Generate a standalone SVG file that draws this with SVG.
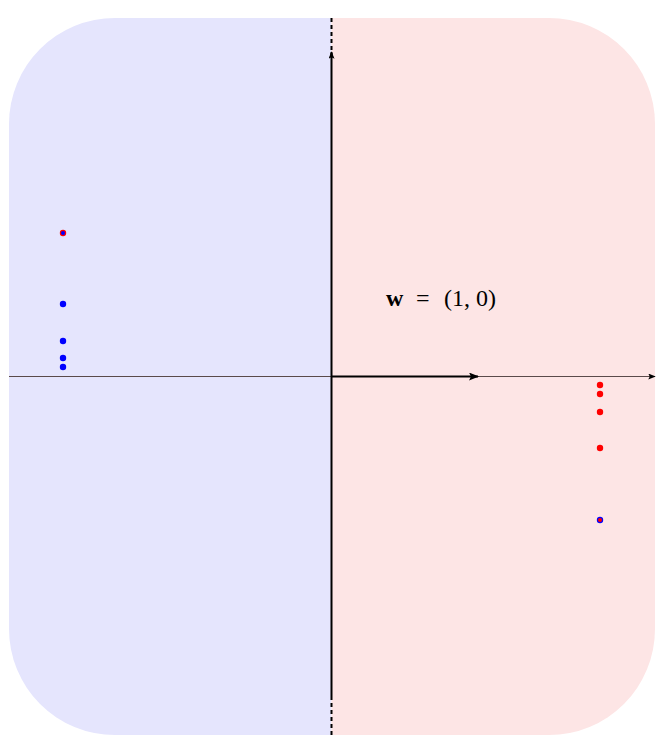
<svg xmlns="http://www.w3.org/2000/svg" width="664" height="754" viewBox="0 0 664 754">
<defs>
<clipPath id="bg"><rect x="9" y="18" width="646" height="717" rx="106" ry="106"/></clipPath>
<marker id="ah" viewBox="0 0 10 8" refX="9" refY="4" markerWidth="10" markerHeight="8" markerUnits="userSpaceOnUse" orient="auto"><path d="M0,0 L10,4 L0,8 L2,4 Z" fill="#000"/></marker>
<marker id="ahs" viewBox="0 0 10 8" refX="9" refY="4" markerWidth="8" markerHeight="6" markerUnits="userSpaceOnUse" orient="auto"><path d="M0,0 L10,4 L0,8 L2,4 Z" fill="#000"/></marker>
</defs>
<style>
.b{fill:#0000ff}
.r{fill:#ff0000}
.t{font-family:"Liberation Serif","DejaVu Serif",serif;font-size:24px;fill:#000}
</style>
<g id="background" clip-path="url(#bg)">
<rect x="9" y="18" width="322.5" height="717" fill="#e5e5fd"/>
<rect x="331.5" y="18" width="323.5" height="717" fill="#fde5e5"/>
</g>
<g id="connectors">
<line x1="9" y1="376.5" x2="655" y2="376.5" stroke="#5a4a4a" stroke-width="1" marker-end="url(#ahs)"/>
<line x1="331.5" y1="18" x2="331.5" y2="55" stroke="#000" stroke-width="2" stroke-dasharray="4,3"/>
<line x1="331.5" y1="735" x2="331.5" y2="697" stroke="#000" stroke-width="2" stroke-dasharray="4,3"/>
<line x1="331.5" y1="697" x2="331.5" y2="52" stroke="#000" stroke-width="2" marker-end="url(#ahs)"/>
<line x1="331.5" y1="376.5" x2="478" y2="376.5" stroke="#000" stroke-width="2" marker-end="url(#ah)"/>
</g>
<g id="label"><text class="t" y="306"><tspan x="386" font-weight="bold">w</tspan><tspan x="416">=</tspan><tspan x="444">(1,</tspan><tspan x="476">0)</tspan></text></g>
<g id="left-points">
<circle cx="63" cy="233" r="3.2" class="r"/><circle cx="63" cy="233" r="2" class="b"/>
<circle cx="63" cy="304" r="3.2" class="b"/>
<circle cx="63" cy="341" r="3.2" class="b"/>
<circle cx="63" cy="358" r="3.2" class="b"/>
<circle cx="63" cy="367" r="3.2" class="b"/>
</g>
<g id="right-points">
<circle cx="600" cy="385" r="3.2" class="r"/>
<circle cx="600" cy="394" r="3.2" class="r"/>
<circle cx="600" cy="412" r="3.2" class="r"/>
<circle cx="600" cy="448" r="3.2" class="r"/>
<circle cx="600" cy="520" r="3.2" class="b"/><circle cx="600" cy="520" r="2" class="r"/>
</g>
</svg>
